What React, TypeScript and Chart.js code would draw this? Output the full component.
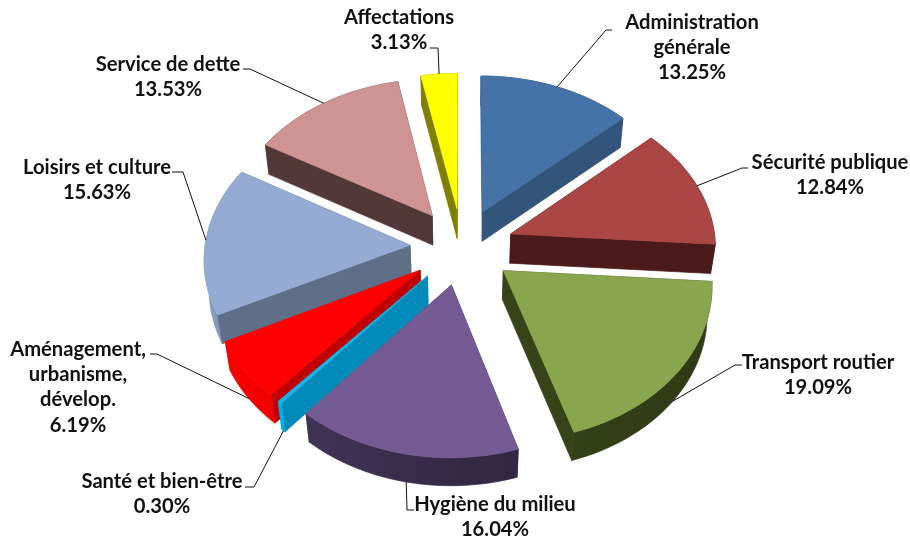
import React, { useEffect, useRef } from "react";
import Chart from "chart.js/auto";

const categories = [
  ["Administration", "générale"],
  ["Sécurité publique"],
  ["Transport routier"],
  ["Hygiène du milieu"],
  ["Santé et bien-être"],
  ["Aménagement,", "urbanisme,", "dévelop."],
  ["Loisirs et culture"],
  ["Service de dette"],
  ["Affectations"],
];
const values = [13.25, 12.84, 19.09, 16.04, 0.3, 6.19, 15.63, 13.53, 3.13];
const topColors = ["#4573A7", "#AA4643", "#89A54E", "#765A94", "#1BB4EA", "#FF0000", "#95ABD3", "#D09393", "#FFFF00"];
const sideColors = ["#33547B", "#4B1B1B", "#374319", "#342945", "#008ABA", "#C00000", "#5F6F87", "#523839", "#7F7F00"];

// label layout: centre x, first line y, line height is shared
const labelCentreX = [692, 830, 818, 495, 162, 78, 97, 168, 399];
const labelFirstY = [22, 162, 362, 504, 481, 349, 167, 64, 17];
// leader line: elbow point, and where it meets the label
const leaderElbow = [[606, 30], [742, 168], [735, 365], [407, 510], [254, 487], [157, 354], [183, 172], [250, 69], [438, 48]];
const leaderEnd = [[612, 30], [748, 168], [742, 365], [414, 510], [245, 487], [150, 354], [172, 172], [243, 69], [430, 48]];

const RADIUS = 205;
const EXPLODE = 52;
const THICKNESS = 44.5;
const SIN_TILT = 0.742;
const COS_TILT = 0.67;
const FOCAL = 1700;
const FONT = "bold 20.2px Lato";
const LINE_HEIGHT = 25.4;

function shade(hex: string, m: number) {
  const n = parseInt(hex.slice(1), 16);
  const c = (v: number) => Math.max(0, Math.min(255, Math.round(v * m)));
  return `rgb(${c((n >> 16) & 255)},${c((n >> 8) & 255)},${c(n & 255)})`;
}

const pie3d = {
  id: "pie3d",
  beforeDatasetsDraw(chart: any) {
    const ctx = chart.ctx as CanvasRenderingContext2D;
    const arcs = chart.getDatasetMeta(0).data as any[];
    const slices = arcs.map((el: any, i: number) => {
      const p = el.getProps(["x", "y", "startAngle", "endAngle", "outerRadius"], true);
      return { i, ...p, mid: (p.startAngle + p.endAngle) / 2 };
    });
    const project = (s: any, X: number, Y: number, Z: number) => {
      const depth = Y * COS_TILT + Z * SIN_TILT;
      const k = FOCAL / (FOCAL - depth);
      return [s.x + X * k, s.y + (Y * SIN_TILT - Z * COS_TILT) * k, depth];
    };
    const fillPoly = (pts: number[][], color: any) => {
      ctx.beginPath();
      pts.forEach((q, n) => (n ? ctx.lineTo(q[0], q[1]) : ctx.moveTo(q[0], q[1])));
      ctx.closePath();
      ctx.fillStyle = color;
      ctx.fill();
      ctx.strokeStyle = color;
      ctx.lineWidth = 0.7;
      ctx.stroke();
    };
    const ordered = [...slices].sort((a, b) => Math.sin(a.mid) - Math.sin(b.mid));
    for (const s of ordered) {
      const ox = Math.cos(s.mid) * EXPLODE;
      const oy = Math.sin(s.mid) * EXPLODE;
      const steps = Math.max(2, Math.ceil(((s.endAngle - s.startAngle) * 180) / Math.PI / 1.5));
      const rim: number[][] = [];
      for (let n = 0; n <= steps; n++) {
        const a = s.startAngle + ((s.endAngle - s.startAngle) * n) / steps;
        rim.push([ox + Math.cos(a) * s.outerRadius, oy + Math.sin(a) * s.outerRadius, a]);
      }
      const cut = (a: number[], b: number[]) => [
        project(s, a[0], a[1], 0),
        project(s, b[0], b[1], 0),
        project(s, b[0], b[1], -THICKNESS),
        project(s, a[0], a[1], -THICKNESS),
      ];
      const tip = [ox, oy];
      const base = sideColors[s.i];
      const faces = [
        { pts: cut(tip, rim[0]), d: (tip[1] + rim[0][1]) / 2 },
        { pts: cut(tip, rim[steps]), d: (tip[1] + rim[steps][1]) / 2 },
      ].sort((a, b) => a.d - b.d);

      // the curved outer wall, lit from the left
      const wallTop = rim.map((r) => project(s, r[0], r[1], 0));
      const wallBottom = rim.map((r) => project(s, r[0], r[1], -THICKNESS)).reverse();
      const wall = [...wallTop, ...wallBottom];
      const grad = ctx.createLinearGradient(s.x - s.outerRadius - EXPLODE, 0, s.x + s.outerRadius + EXPLODE, 0);
      grad.addColorStop(0, shade(base, 1.4));
      grad.addColorStop(0.5, shade(base, 1.0));
      grad.addColorStop(1, shade(base, 0.88));

      const wallFront = Math.sin(s.mid) > 0;
      if (!wallFront) fillPoly(wall, grad);
      faces.forEach((f) => fillPoly(f.pts, base));
      if (wallFront) fillPoly(wall, grad);

      const top = [project(s, tip[0], tip[1], 0), ...wallTop];
      fillPoly(top, topColors[s.i]);
    }

    // leader lines, from each slice's outer edge to its label
    ctx.strokeStyle = "#111";
    ctx.lineWidth = 1;
    slices.forEach((s: any) => {
      const R = s.outerRadius + EXPLODE;
      const front = Math.sin(s.mid) > 0.1;
      const a = project(s, Math.cos(s.mid) * R, Math.sin(s.mid) * R, front ? -THICKNESS : 0);
      ctx.beginPath();
      ctx.moveTo(a[0], a[1]);
      ctx.lineTo(leaderElbow[s.i][0], leaderElbow[s.i][1]);
      ctx.lineTo(leaderEnd[s.i][0], leaderEnd[s.i][1]);
      ctx.stroke();
    });

    // labels
    ctx.font = FONT;
    ctx.fillStyle = "#111";
    ctx.textAlign = "center";
    ctx.textBaseline = "middle";
    categories.forEach((lines, i) => {
      const all = [...lines, values[i].toFixed(2) + "%"];
      all.forEach((t, n) => ctx.fillText(t, labelCentreX[i], labelFirstY[i] + n * LINE_HEIGHT));
    });
    return false;
  },
};

export default function App() {
  const ref = useRef<HTMLCanvasElement>(null);
  useEffect(() => {
    const chart = new Chart(ref.current!, {
      type: "pie",
      data: {
        labels: categories.map((c) => c.join(" ")),
        datasets: [{ data: values, backgroundColor: topColors, borderWidth: 0 }],
      },
      options: {
        responsive: false,
        animation: false,
        radius: RADIUS,
        layout: { padding: { left: 14, bottom: 48 } },
        plugins: { legend: { display: false }, tooltip: { enabled: false } },
      } as any,
      plugins: [pie3d],
    });
    return () => chart.destroy();
  }, []);
  return (
    <div style={{ position: "fixed", left: 0, top: 0, width: 910, height: 541, background: "#fff" }}>
      <canvas ref={ref} width={910} height={541} style={{ display: "block" }} />
    </div>
  );
}
